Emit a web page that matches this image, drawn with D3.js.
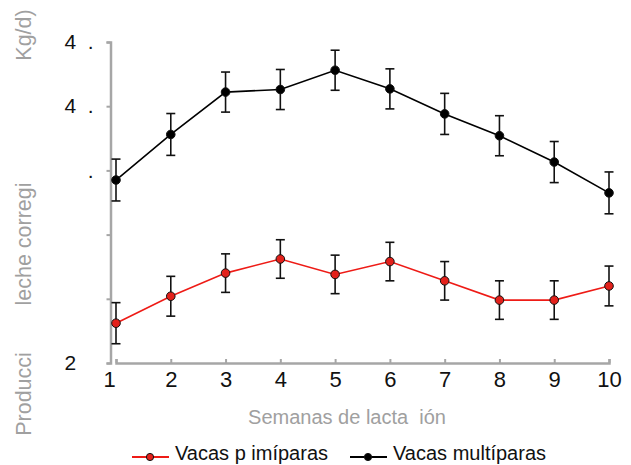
<!DOCTYPE html>
<html>
<head>
<meta charset="utf-8">
<script src="https://cdn.jsdelivr.net/npm/d3@7"></script>
<style>
  body { margin: 0; background: #fff; }
  svg { font-family: "Liberation Sans", Arial, sans-serif; }
  .pre { white-space: pre; }
</style>
</head>
<body>
<div id="chart"></div>
<script>
// weeks of lactation
const weeks = [1, 2, 3, 4, 5, 6, 7, 8, 9, 10];

// corrected milk yield (kg/d) and error bar half-widths
const primiparas = [23.1, 25.2, 27.0, 28.1, 26.9, 27.9, 26.4, 24.9, 24.9, 26.0];
const primiparasErr = [1.6, 1.55, 1.5, 1.5, 1.5, 1.5, 1.5, 1.5, 1.5, 1.55];
const multiparas = [34.25, 37.8, 41.1, 41.3, 42.8, 41.35, 39.4, 37.7, 35.65, 33.25];
const multiparasErr = [1.63, 1.63, 1.56, 1.56, 1.56, 1.56, 1.6, 1.56, 1.6, 1.63];

const seriesNames = ['Vacas p imíparas', 'Vacas multíparas'];

// y ticks and their (broken) labels, as in the picture
const yTicks = [20, 25, 30, 35, 40, 45];
const yTickLabels = ['2', '', '', '    .', '4  .', '4  .'];

const width = 631;
const height = 465;

const svg = d3.select('#chart')
  .append('svg')
  .attr('width', width)
  .attr('height', height);

const x = d3.scaleLinear()
  .domain([1, 10])
  .range([116, 609]);

const y = d3.scaleLinear()
  .domain([20, 45])
  .range([363, 42]);

const axisGrey = '#a6a6a6';

// y axis
const yAxis = svg.append('g')
  .attr('transform', 'translate(110.5,0)')
  .call(d3.axisLeft(y)
    .tickValues(yTicks)
    .tickSize(4)
    .tickPadding(0)
    .tickFormat((d, i) => yTickLabels[i]));
yAxis.select('.domain').attr('stroke', axisGrey).attr('stroke-width', 2.5);
yAxis.selectAll('.tick line').attr('stroke', axisGrey).attr('stroke-width', 2);
yAxis.selectAll('.tick text')
  .attr('class', 'pre')
  .attr('text-anchor', 'start')
  .attr('x', -46)
  .attr('fill', '#111')
  .style('font-size', '21px');

// x axis
const xAxis = svg.append('g')
  .attr('transform', 'translate(0,363)')
  .call(d3.axisBottom(x)
    .tickValues(weeks)
    .tickSize(-4)
    .tickPadding(8)
    .tickFormat(d3.format('d')));
xAxis.select('.domain').attr('stroke', axisGrey).attr('stroke-width', 2.5);
xAxis.selectAll('.tick line').attr('stroke', axisGrey).attr('stroke-width', 2);
xAxis.selectAll('.tick text')
  .attr('fill', '#111')
  .style('font-size', '22px');
// the first label sits a little left of its tick
xAxis.selectAll('.tick text').filter(d => d === 1).attr('dx', -7);

// axis titles
svg.append('text')
  .attr('class', 'pre')
  .attr('x', 347)
  .attr('y', 424)
  .attr('text-anchor', 'middle')
  .attr('fill', '#a0a0a0')
  .style('font-size', '20px')
  .text('Semanas de lacta  ión');

const yTitleParts = [
  { text: 'Producci', cy: 394 },
  { text: 'leche corregi', cy: 244 },
  { text: 'Kg/d)', cy: 35 },
];
svg.selectAll('.ytitle')
  .data(yTitleParts)
  .enter()
  .append('text')
  .attr('class', 'ytitle')
  .attr('transform', d => `translate(31,${d.cy}) rotate(-90)`)
  .attr('text-anchor', 'middle')
  .attr('fill', '#a0a0a0')
  .style('font-size', '21.5px')
  .text(d => d.text);

const series = [
  { name: seriesNames[0], values: primiparas, err: primiparasErr, line: '#ee1b16', fill: '#e3211b', r: 4.3 },
  { name: seriesNames[1], values: multiparas, err: multiparasErr, line: '#000', fill: '#000', r: 4.3 },
];

const line = d3.line()
  .x((d, i) => x(weeks[i]))
  .y(d => y(d));

series.forEach(s => {
  const g = svg.append('g');

  g.append('path')
    .datum(s.values)
    .attr('fill', 'none')
    .attr('stroke', s.line)
    .attr('stroke-width', 1.6)
    .attr('d', line);

  // error bars
  const bars = g.selectAll('.err')
    .data(s.values)
    .enter()
    .append('g')
    .attr('stroke', '#111')
    .attr('stroke-width', 1.6);
  bars.append('line')
    .attr('x1', (d, i) => x(weeks[i]))
    .attr('x2', (d, i) => x(weeks[i]))
    .attr('y1', (d, i) => y(d + s.err[i]))
    .attr('y2', (d, i) => y(d - s.err[i]));
  bars.append('line')
    .attr('x1', (d, i) => x(weeks[i]) - 4.5)
    .attr('x2', (d, i) => x(weeks[i]) + 4.5)
    .attr('y1', (d, i) => y(d + s.err[i]))
    .attr('y2', (d, i) => y(d + s.err[i]));
  bars.append('line')
    .attr('x1', (d, i) => x(weeks[i]) - 4.5)
    .attr('x2', (d, i) => x(weeks[i]) + 4.5)
    .attr('y1', (d, i) => y(d - s.err[i]))
    .attr('y2', (d, i) => y(d - s.err[i]));

  g.selectAll('circle')
    .data(s.values)
    .enter()
    .append('circle')
    .attr('cx', (d, i) => x(weeks[i]))
    .attr('cy', d => y(d))
    .attr('r', s.r)
    .attr('fill', s.fill)
    .attr('stroke', '#111')
    .attr('stroke-width', 1);
});

// legend
const legendPos = [132, 350];
const legend = svg.selectAll('.legend')
  .data(series)
  .enter()
  .append('g')
  .attr('transform', (d, i) => `translate(${legendPos[i]},457)`);
legend.append('line')
  .attr('x1', 0)
  .attr('x2', 37)
  .attr('stroke', d => d.line)
  .attr('stroke-width', 1.8);
legend.append('circle')
  .attr('cx', 18)
  .attr('r', 3.6)
  .attr('fill', d => d.fill)
  .attr('stroke', '#111')
  .attr('stroke-width', 1);
legend.append('text')
  .attr('x', 43)
  .attr('y', 3)
  .attr('fill', '#111')
  .style('font-size', '20px')
  .text(d => d.name);
</script>
</body>
</html>
